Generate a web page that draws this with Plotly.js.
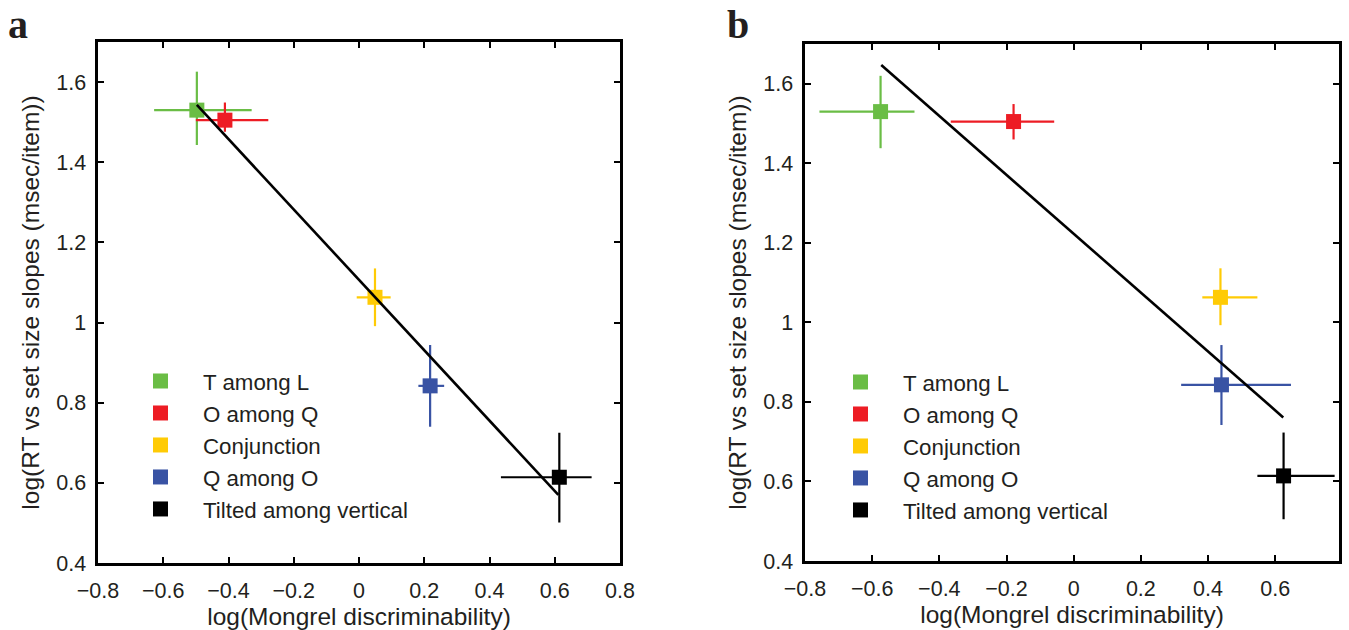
<!DOCTYPE html>
<html><head><meta charset="utf-8">
<script src="https://cdn.plot.ly/plotly-3.0.1.min.js"></script>
<style>html,body{margin:0;padding:0;background:#fff;}#chart{width:1349px;height:630px;}</style>
</head><body><div id="chart"></div>
<script>
const categories = ['T among L','O among Q','Conjunction','Q among O','Tilted among vertical'];
const colors = ['#6abd45','#ed1c24','#ffcb05','#3953a4','#000000'];

// Panel a
const aX = [-0.497, -0.411, 0.049, 0.218, 0.614];
const aY = [1.530, 1.505, 1.063, 0.842, 0.614];
const aXerrMinus = [0.131, 0.089, 0.056, 0.036, 0.179];
const aXerrPlus  = [0.168, 0.133, 0.048, 0.043, 0.099];
const aYerrPlus  = [0.096, 0.044, 0.072, 0.102, 0.111];
const aYerrMinus = [0.087, 0.029, 0.072, 0.102, 0.113];
const fitAX = [-0.497, 0.611];
const fitAY = [1.543, 0.570];

// Panel b
const bX = [-0.575, -0.179, 0.437, 0.440, 0.625];
const bY = [1.530, 1.505, 1.063, 0.843, 0.614];
const bXerrMinus = [0.182, 0.187, 0.054, 0.120, 0.078];
const bXerrPlus  = [0.101, 0.121, 0.110, 0.207, 0.152];
const bYerrPlus  = [0.090, 0.044, 0.073, 0.100, 0.109];
const bYerrMinus = [0.092, 0.045, 0.070, 0.101, 0.109];
const fitBX = [-0.573, 0.624];
const fitBY = [1.647, 0.761];

const xTicksA = [-0.8,-0.6,-0.4,-0.2,0,0.2,0.4,0.6,0.8];
const xTicksB = [-0.8,-0.6,-0.4,-0.2,0,0.2,0.4,0.6];
const yTicks = [0.4,0.6,0.8,1,1.2,1.4,1.6];
const xLabA = xTicksA.map(v => v < 0 ? '\u2212' + Math.abs(v) : String(v));
const xLabB = xTicksB.map(v => v < 0 ? '\u2212' + Math.abs(v) : String(v));
const yLab = yTicks.map(v => String(v));

const traces = [];
function addPanel(xs, ys, xm, xp, ym, yp, fx, fy, xa, ya, leg) {
  for (let i = 0; i < categories.length; i++) {
    traces.push({
      type:'scatter', mode:'markers', x:[xs[i]], y:[ys[i]], xaxis:xa, yaxis:ya,
      showlegend:false, hoverinfo:'skip',
      marker:{symbol:'square', size:15, color:colors[i]},
      error_x:{type:'data', symmetric:false, array:[xp[i]], arrayminus:[xm[i]], color:colors[i], thickness:2.2, width:0},
      error_y:{type:'data', symmetric:false, array:[yp[i]], arrayminus:[ym[i]], color:colors[i], thickness:2.2, width:0}
    });
  }
  traces.push({type:'scatter', mode:'lines', x:fx, y:fy, xaxis:xa, yaxis:ya, showlegend:false,
    line:{color:'#000', width:2.6}, hoverinfo:'skip'});
  for (let i = 0; i < categories.length; i++) {
    traces.push({type:'scatter', mode:'markers', x:[null], y:[null], xaxis:xa, yaxis:ya,
      name:categories[i], legend:leg, showlegend:true,
      marker:{symbol:'square', size:15, color:colors[i]}});
  }
}
addPanel(aX, aY, aXerrMinus, aXerrPlus, aYerrMinus, aYerrPlus, fitAX, fitAY, 'x', 'y', 'legend');
addPanel(bX, bY, bXerrMinus, bXerrPlus, bYerrMinus, bYerrPlus, fitBX, fitBY, 'x2', 'y2', 'legend2');

const W = 1349, H = 630;
const tickFont = {family:'Liberation Sans, Arial, sans-serif', size:21.5, color:'#231f20'};
const titleFont = {family:'Liberation Sans, Arial, sans-serif', size:24.5, color:'#231f20'};
function xAxis(range, tv, tt, dom, anchor) {
  return {range:range, domain:dom, anchor:anchor, tickvals:tv, ticktext:tt, ticks:'inside', ticklen:6, tickwidth:2,
    tickcolor:'#000', showline:true, linecolor:'#000', linewidth:2.6, mirror:'allticks', showgrid:false, zeroline:false,
    tickfont:tickFont, ticklabelstandoff:7,
    title:{text:'log(Mongrel discriminability)', font:titleFont, standoff:2}};
}
function yAxis(dom, anchor) {
  return {range:[0.4,1.7], domain:dom, anchor:anchor, tickvals:yTicks, ticktext:yLab, ticks:'inside', ticklen:6, tickwidth:2,
    tickcolor:'#000', showline:true, linecolor:'#000', linewidth:2.6, mirror:'allticks', showgrid:false, zeroline:false,
    tickfont:tickFont, ticklabelstandoff:5,
    title:{text:'log(RT vs set size slopes (msec/item))', font:titleFont, standoff:10}};
}
const legFont = {family:'Liberation Sans, Arial, sans-serif', size:22.3, color:'#231f20'};
const layout = {
  width:W, height:H, margin:{l:0,r:0,t:0,b:0}, paper_bgcolor:'#fff', plot_bgcolor:'#fff',
  xaxis: xAxis([-0.8,0.8], xTicksA, xLabA, [98/W, 620/W], 'y'),
  yaxis: yAxis([1-563/H, 1-42/H], 'x'),
  xaxis2: xAxis([-0.8,0.79], xTicksB, xLabB, [805/W, 1339/W], 'y2'),
  yaxis2: yAxis([1-561/H, 1-44/H], 'x2'),
  legend:{x:118/W, y:1-360/H, xanchor:'left', yanchor:'top', bgcolor:'rgba(0,0,0,0)', borderwidth:0,
    font:legFont, itemwidth:75, tracegroupgap:0},
  legend2:{x:818/W, y:1-361/H, xanchor:'left', yanchor:'top', bgcolor:'rgba(0,0,0,0)', borderwidth:0,
    font:legFont, itemwidth:75, tracegroupgap:0},
  annotations:[
    {text:'<b>a</b>', xref:'paper', yref:'paper', x:6/W, y:1, xanchor:'left', yanchor:'top', showarrow:false,
     font:{family:'Liberation Serif, Times New Roman, serif', size:40, color:'#231f20'}},
    {text:'<b>b</b>', xref:'paper', yref:'paper', x:725/W, y:1, xanchor:'left', yanchor:'top', showarrow:false,
     font:{family:'Liberation Serif, Times New Roman, serif', size:40, color:'#231f20'}}
  ]
};
Plotly.newPlot('chart', traces, layout, {displayModeBar:false, staticPlot:true});
</script></body></html>
